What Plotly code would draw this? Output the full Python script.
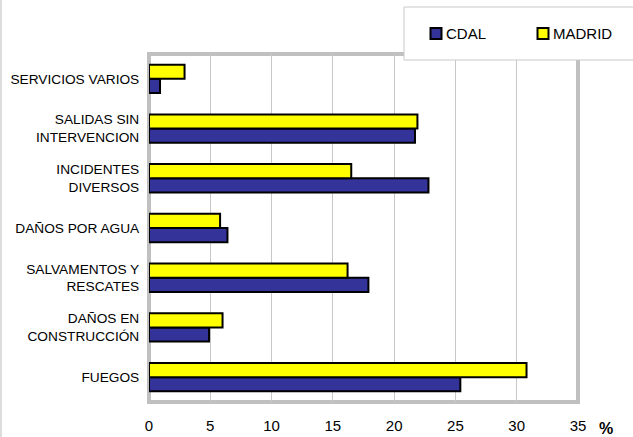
import plotly.graph_objects as go

categories = [
    "FUEGOS",
    "DAÑOS EN<br>CONSTRUCCIÓN",
    "SALVAMENTOS Y<br>RESCATES",
    "DAÑOS POR AGUA",
    "INCIDENTES<br>DIVERSOS",
    "SALIDAS SIN<br>INTERVENCION",
    "SERVICIOS VARIOS",
]
cdal = [25.4, 4.9, 17.9, 6.4, 22.8, 21.7, 0.9]
madrid = [30.8, 6.0, 16.2, 5.8, 16.5, 21.9, 2.9]
x_ticks = [0, 5, 10, 15, 20, 25, 30, 35]
series_names = ["CDAL", "MADRID"]
series_colors = ["#333399", "#FFFF00"]

font_family = "Liberation Sans, Arial, sans-serif"

W, H = 633, 437
L, R, T, B = 149, 55, 54, 35
PW, PH = W - L - R, H - T - B


def px(x):
    return (x - L) / PW


def py(y):
    return (H - B - y) / PH


fig = go.Figure()
for name, vals, col in zip(series_names, [cdal, madrid], series_colors):
    fig.add_trace(go.Bar(
        y=categories, x=vals, name=name, orientation="h",
        marker=dict(color=col, line=dict(color="#000000", width=2)),
    ))

shapes = [
    dict(type="rect", xref="paper", yref="paper", x0=0, x1=1, y0=0, y1=1,
         line=dict(color="#c0c0c0", width=4), layer="below"),
    dict(type="rect", xref="paper", yref="paper",
         x0=px(404), x1=px(640), y0=py(60), y1=py(7),
         line=dict(color="#c8c8c8", width=1), fillcolor="white", layer="above"),
    dict(type="line", xref="paper", yref="paper",
         x0=px(1), x1=px(1), y0=py(437), y1=py(0),
         line=dict(color="#d0d0d0", width=1.5)),
]
annotations = [
    dict(text="<b>%</b>", xref="paper", yref="paper",
         x=px(606), y=py(428), xanchor="center", yanchor="middle",
         showarrow=False, font=dict(size=16)),
]
legend_x = [430, 537]
for name, col, lx in zip(series_names, series_colors, legend_x):
    shapes.append(dict(type="rect", xref="paper", yref="paper",
                       x0=px(lx + 0.5), x1=px(lx + 11.5), y0=py(39), y1=py(28),
                       line=dict(color="#000000", width=2), fillcolor=col, layer="above"))
    annotations.append(dict(text=name, xref="paper", yref="paper",
                            x=px(lx + 14), y=py(33.5), xanchor="left", yanchor="middle",
                            showarrow=False, font=dict(size=15)))

fig.update_layout(
    width=W, height=H,
    margin=dict(l=L, r=R, t=T, b=B, autoexpand=False),
    paper_bgcolor="white", plot_bgcolor="white",
    barmode="group", bargap=0.43, bargroupgap=0.0,
    font=dict(family=font_family, color="#000000"),
    showlegend=False,
    xaxis=dict(
        range=[0, 35], tickvals=x_ticks, showgrid=True, gridcolor="#c8c8c8",
        gridwidth=1, zeroline=False, showline=False, automargin=False,
        tickfont=dict(size=15), ticks="outside", ticklen=10, tickcolor="rgba(0,0,0,0)",
    ),
    yaxis=dict(
        showgrid=False, zeroline=False, showline=False, automargin=False,
        tickfont=dict(size=13.7), ticks="outside", ticklen=6, tickcolor="rgba(0,0,0,0)",
    ),
    shapes=shapes,
    annotations=annotations,
)

fig.write_html(
    "out.html",
    config={"displayModeBar": False},
    post_script="document.body.style.margin='0';document.body.style.padding='0';",
)
